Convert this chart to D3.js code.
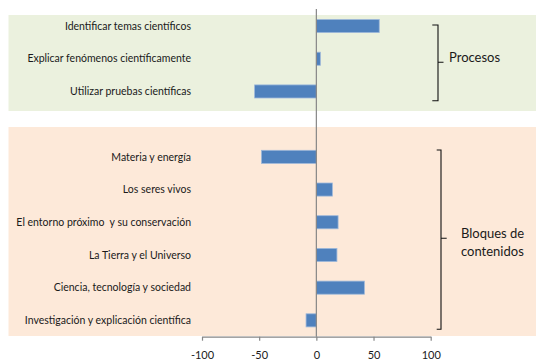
<!DOCTYPE html>
<html>
<head>
<meta charset="utf-8">
<script src="https://cdn.jsdelivr.net/npm/d3@7"></script>
<style>
  html, body { margin: 0; padding: 0; background: #ffffff; }
  svg { display: block; }
  text { font-family: Lato, "Open Sans", sans-serif; fill: #1a1a1a; }
</style>
</head>
<body>
<svg id="chart" width="536" height="363"></svg>
<script>
// ---- data ----
const categories = [
  "Identificar temas científicos",
  "Explicar fenómenos científicamente",
  "Utilizar pruebas científicas",
  "Materia y energía",
  "Los seres vivos",
  "El entorno próximo  y su conservación",
  "La Tierra y el Universo",
  "Ciencia, tecnología y sociedad",
  "Investigación y explicación científica"
];
const values = [55, 3.5, -54, -48, 14, 19, 18, 42, -9];
const groupNames = ["Procesos", "Bloques de contenidos"];
const groupOf = [0, 0, 0, 1, 1, 1, 1, 1, 1];
const xTicks = [-100, -50, 0, 50, 100];
const xTickLabels = ["-100", "-50", "0", "50", "100"];

// ---- layout ----
const svg = d3.select("#chart");
const W = 536, H = 363;

// band slots: group 0 categories, one blank slot, group 1 categories
const slots = [];
categories.forEach((c, i) => {
  if (i > 0 && groupOf[i] !== groupOf[i - 1]) slots.push("__gap__");
  slots.push(c);
});

const y = d3.scaleBand().domain(slots).range([9.7, 336.7]).paddingInner(0.6).paddingOuter(0.3);
const x = d3.scaleLinear().domain([-100, 100]).range([202, 430.7]);

// background panels
const panels = [
  { g: 0, y0: 15, y1: 111, fill: "#ebf1de" },
  { g: 1, y0: 127, y1: 336, fill: "#fde9d9" }
];
svg.selectAll("rect.panel").data(panels).enter().append("rect")
  .attr("class", "panel")
  .attr("x", 8.5).attr("width", W - 8.5)
  .attr("y", d => d.y0).attr("height", d => d.y1 - d.y0)
  .attr("fill", d => d.fill);

// bars
const data = categories.map((c, i) => ({ c, v: values[i] }));
svg.selectAll("rect.bar").data(data).enter().append("rect")
  .attr("class", "bar")
  .attr("x", d => x(Math.min(0, d.v)))
  .attr("width", d => Math.abs(x(d.v) - x(0)))
  .attr("y", d => y(d.c))
  .attr("height", y.bandwidth())
  .attr("fill", "#4f81bd")
  .attr("stroke", "#9db8da")
  .attr("stroke-width", 0.8);

// category labels
svg.selectAll("text.cat").data(data).enter().append("text")
  .attr("class", "cat")
  .attr("x", 191)
  .attr("y", d => y(d.c) + y.bandwidth() / 2)
  .attr("dy", "0.35em")
  .attr("text-anchor", "end")
  .attr("font-size", 10.5)
  .style("white-space", "pre")
  .text(d => d.c);

// vertical zero line
svg.append("line")
  .attr("x1", x(0)).attr("x2", x(0))
  .attr("y1", 9).attr("y2", 336.7)
  .attr("stroke", "#868686").attr("stroke-width", 1.2);

// x axis
const axis = svg.append("g")
  .attr("transform", "translate(0,336.7)")
  .call(d3.axisBottom(x).tickValues(xTicks)
    .tickFormat((d, i) => xTickLabels[i])
    .tickSize(4).tickSizeOuter(0).tickPadding(11));
axis.select(".domain").attr("stroke", "#868686").attr("stroke-width", 1.2);
axis.selectAll(".tick line").attr("stroke", "#868686").attr("stroke-width", 1.2);
axis.selectAll(".tick text")
  .attr("font-family", "Lato, 'Open Sans', sans-serif")
  .attr("font-size", 11)
  .attr("fill", "#1a1a1a");

// group brackets
const brackets = [
  { g: 0, top: 25, bot: 100.7, mid: 62.3, xh: 432.3, xv: 438, xn: 443.5, tx: 449, lines: ["Procesos"], ty: [62] },
  { g: 1, top: 150, bot: 329.3, mid: 238.3, xh: 436.7, xv: 441, xn: 446.7, tx: 461, lines: ["Bloques de", "contenidos"], ty: [238, 256] }
];
brackets.forEach(b => {
  svg.append("path")
    .attr("d", `M${b.xh},${b.top}H${b.xv}V${b.bot}H${b.xh}M${b.xv},${b.mid}H${b.xn}`)
    .attr("fill", "none").attr("stroke", "#111").attr("stroke-width", 1.1);
  b.lines.forEach((t, k) => {
    svg.append("text")
      .attr("x", b.tx).attr("y", b.ty[k])
      .attr("font-size", 13)
      .text(k === 0 && b.lines.length === 1 ? groupNames[b.g] : t);
  });
});
</script>
</body>
</html>
